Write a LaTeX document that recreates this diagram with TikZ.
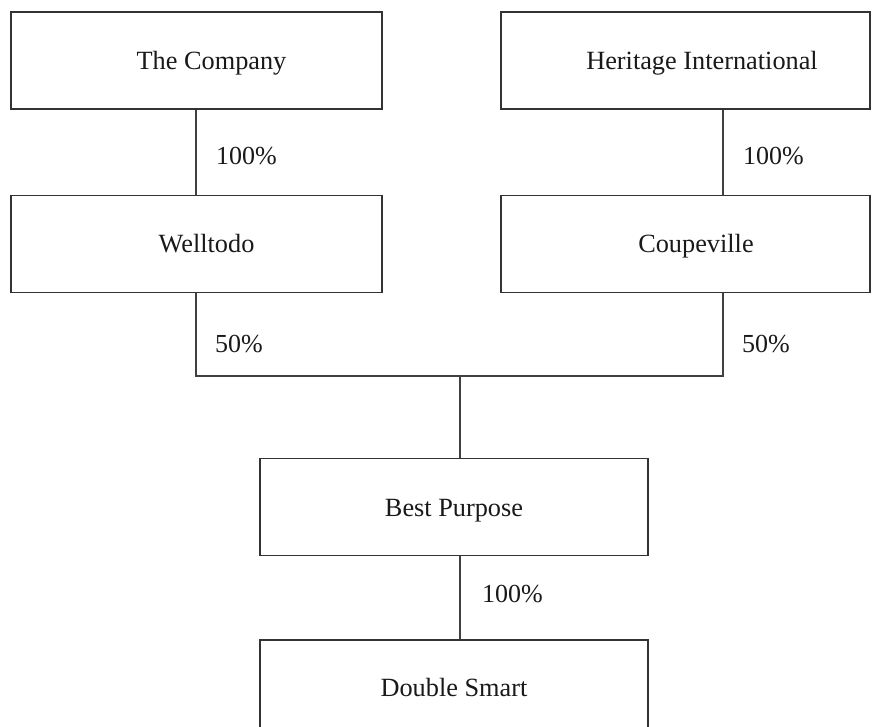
\documentclass[tikz,border=0pt]{standalone}
\usepackage{fontspec}
\setmainfont{Liberation Serif}
\begin{document}
\begin{tikzpicture}[x=1pt,y=-1pt,
  ent/.style={draw=black!80, line width=1.2pt, minimum height=97pt, inner sep=0pt},
  txt/.style={anchor=base, inner sep=0pt, text=black!90, font=\fontsize{26.3}{30}\selectfont},
  conn/.style={draw=black!75, line width=1.2pt},
  pct/.style={anchor=west, inner sep=0pt, text=black!90, font=\fontsize{26}{30}\selectfont}]
\useasboundingbox (0,0) rectangle (880,727);
\clip (0,0) rectangle (880,727);
\node[ent, minimum width=371pt] (company) at (196.5,60.5) {};
\node[ent, minimum width=369pt] (heritage) at (685.5,60.5) {};
\node[ent, minimum width=371pt] (welltodo) at (196.5,244) {};
\node[ent, minimum width=369pt] (coupe) at (685.5,244) {};
\node[ent, minimum width=388pt] (best) at (454,507) {};
\node[ent, minimum width=388pt, minimum height=120pt] (double) at (454,700) {};
\node[txt] (companyt) at (211.5,69.5) {The Company};
\node[txt] (heritaget) at (702,69.5) {Heritage International};
\node[txt] (welltodot) at (206.5,253) {Welltodo};
\node[txt] (coupet) at (696,253) {Coupeville};
\node[txt] (bestt) at (454,516) {Best Purpose};
\node[txt] (doublet) at (454,696) {Double Smart};
\coordinate (lx) at (196,0);
\coordinate (rx) at (723,0);
\coordinate (mx) at (460,0);
\coordinate (jl) at (196,376);
\coordinate (jr) at (723,376);
\coordinate (jm) at (460,376);
\draw[conn] (company.south -| lx) -- (welltodo.north -| lx);
\draw[conn] (heritage.south -| rx) -- (coupe.north -| rx);
\draw[conn] (welltodo.south -| lx) -- (jl) -- (jr) -- (coupe.south -| rx);
\draw[conn] (jm) -- (best.north -| mx);
\draw[conn] (best.south -| mx) -- (double.north -| mx);
\node[pct] (p1) at (216,156) {100\%};
\node[pct] (p2) at (743,156) {100\%};
\node[pct] (p3) at (215,344) {50\%};
\node[pct] (p4) at (742,344) {50\%};
\node[pct] (p5) at (482,594) {100\%};
\end{tikzpicture}
\end{document}
